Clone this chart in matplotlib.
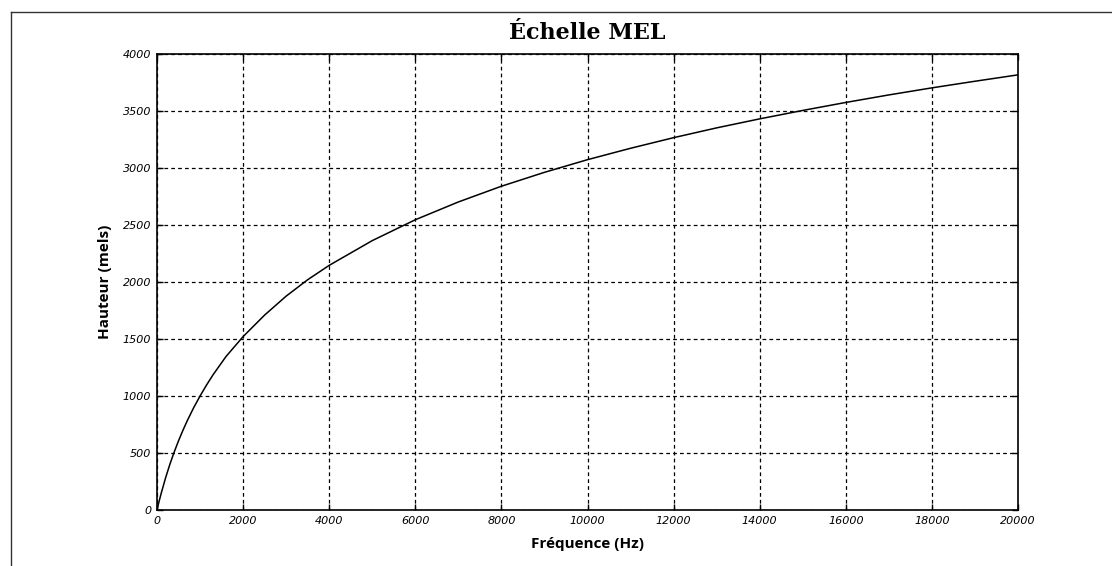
import matplotlib.pyplot as plt
from matplotlib.lines import Line2D

# values
freq_hz = [0, 50, 100, 150, 200, 300, 400, 500, 600, 700, 850, 1000, 1150, 1300,
           1600, 2000, 2500, 3000, 3500, 4000, 5000, 6000, 7000, 8000, 9000,
           10000, 11000, 12000, 13000, 14000, 15000, 16000, 17000, 18000, 19000, 20000]
mels = [0, 78, 150, 216, 283, 402, 509, 607, 697, 781, 896, 1000, 1096, 1185,
        1345, 1521, 1710, 1876, 2020, 2146, 2363, 2546, 2702, 2840, 2962,
        3073, 3173, 3266, 3352, 3431, 3505, 3575, 3641, 3703, 3761, 3817]

xticks = list(range(0, 20001, 2000))
yticks = list(range(0, 4001, 500))

fig = plt.figure(figsize=(11.12, 5.66), dpi=100)
ax = fig.add_axes([157 / 1112, 1 - 510 / 566, (1018 - 157) / 1112, (510 - 54) / 566])

ax.plot(freq_hz, mels, color='black', linewidth=1.1)

ax.set_xlim(0, 20000)
ax.set_ylim(0, 4000)
ax.set_xticks(xticks)
ax.set_yticks(yticks)
ax.set_xticklabels([str(v) for v in xticks], fontstyle='italic', fontsize=8)
ax.set_yticklabels([str(v) for v in yticks], fontstyle='italic', fontsize=8)
ax.tick_params(direction='in', length=4, width=1, top=True, right=True,
               colors='black', pad=4)
ax.grid(True, color='black', linestyle=(0, (3, 2.5)), linewidth=0.9)
for s in ax.spines.values():
    s.set_linewidth(1.2)

ax.set_xlabel('Fréquence (Hz)', fontsize=11, fontweight='bold', family='Open Sans', labelpad=8)
ax.set_ylabel('Hauteur (mels)', fontsize=11, fontweight='bold', family='Open Sans', labelpad=8)
fig.text(587 / 1112, 1 - 33 / 566, 'Échelle MEL', fontsize=16, fontweight='bold',
         family='DejaVu Serif', ha='center', va='center')

# page frame on the left and top
fig.add_artist(Line2D([11 / 1112, 11 / 1112], [0, 1 - 12 / 566], transform=fig.transFigure,
                      color='#333333', linewidth=1))
fig.add_artist(Line2D([11 / 1112, 1], [1 - 12 / 566, 1 - 12 / 566], transform=fig.transFigure,
                      color='#333333', linewidth=1))

fig.savefig('out.png', dpi=100)
